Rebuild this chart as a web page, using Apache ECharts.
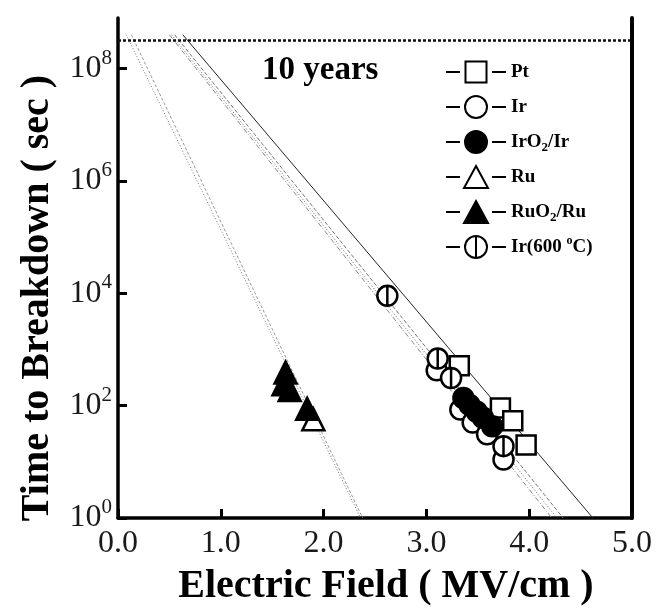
<!DOCTYPE html>
<html>
<head>
<meta charset="utf-8">
<script src="https://cdn.jsdelivr.net/npm/echarts@6/dist/echarts.min.js"></script>
<style>
  html, body { margin: 0; padding: 0; background: #fff; }
  #chart { width: 664px; height: 612px; }
</style>
</head>
<body>
<div id="chart"></div>
<script>
// Measured breakdown points: [electric field (MV/cm), time to breakdown (s)]
const ptPoints    = [[3.32, 515], [3.72, 91], [3.84, 54], [3.97, 20]];
const irPoints    = [[3.10, 425], [3.33, 85], [3.45, 50], [3.59, 31], [3.75, 11]];
const irO2Points  = [[3.36, 137], [3.42, 103], [3.49, 78], [3.55, 61], [3.64, 43]];
const ruPoints    = [[1.90, 57]];
const ruO2Points  = [[1.63, 390], [1.61, 240], [1.67, 190], [1.84, 88]];
const ir600Points = [[2.62, 9000], [3.11, 690], [3.24, 310], [3.75, 19]];

// Extrapolated lifetime lines, [field, time] at each end
const ptFit    = [[0.63, 4e8], [4.62, 1]];
const irFit    = [[0.55, 4e8], [4.33, 1]];
const irO2Fit  = [[0.52, 4e8], [4.27, 1]];
const ir600Fit = [[0.50, 4e8], [4.22, 1]];
const ruFit    = [[0.08, 4e8], [2.36, 1]];
const ruO2Fit  = [[0.13, 4e8], [2.38, 1]];

// Ten-year lifetime criterion (s)
const tenYears = 3.15e8;
const fieldRange = [0, 5];
const fieldTickStep = 1;
const decadeRange = [0, 8.9];   // time axis, in powers of ten
const decadeTickStep = 2;

const seriesNames = ['Pt', 'Ir', 'IrO2/Ir', 'Ru', 'RuO2/Ru', 'Ir(600 °C)'];

const SERIF = '"Liberation Serif", "DejaVu Serif", serif';
const toDecades = pts => pts.map(([x, t]) => [x, Math.log10(t)]);

// plot markers
const barredCircle = 'path://M50,2 A48,48 0 1,1 50,98 A48,48 0 1,1 50,2 Z M50,2 L50,98';

// legend keys: short dash, marker, short dash (60 x 22 box)
const dashes = 'M0,11 L14,11 M46,11 L60,11 ';
const keyCircle = 'M30,0 A11,11 0 1,1 30,22 A11,11 0 1,1 30,0 Z ';
const legendIcons = {
  'Pt': 'path://' + dashes + 'M19.5,0.5 L40.5,0.5 L40.5,21.5 L19.5,21.5 Z M0,0 M60,22',
  'Ir': 'path://' + dashes + keyCircle,
  'IrO2/Ir': 'path://' + dashes + keyCircle,
  'Ru': 'path://' + dashes + 'M30,0 L42,22 L18,22 Z',
  'RuO2/Ru': 'path://' + dashes + 'M30,0 L42,22 L18,22 Z',
  'Ir(600 °C)': 'path://' + dashes + keyCircle + 'M30,0 L30,22'
};

function pointSeries(name, pts, symbol, size, fill, z) {
  return {
    name: name,
    type: 'line',
    data: toDecades(pts),
    symbol: symbol,
    symbolSize: size,
    showSymbol: true,
    lineStyle: { width: 0, opacity: 0 },
    itemStyle: { color: fill, borderColor: '#000', borderWidth: 2.5, opacity: 1 },
    emphasis: { disabled: true },
    animation: false,
    z: z
  };
}

function fitSeries(pts, type, color, width) {
  return {
    type: 'line',
    data: toDecades(pts),
    symbol: 'none',
    silent: true,
    lineStyle: { color: color, width: width, type: type },
    animation: false,
    z: 2
  };
}

const chart = echarts.init(document.getElementById('chart'), null, { renderer: 'canvas' });

chart.setOption({
  backgroundColor: '#fff',
  animation: false,
  title: {
    text: '10 years',
    left: 262,
    top: 54,
    padding: 0,
    textStyle: { fontFamily: SERIF, fontWeight: 'bold', fontSize: 33, color: '#000' }
  },
  grid: { left: 118, right: 32, top: 18, bottom: 87, containLabel: false },
  legend: {
    orient: 'vertical',
    left: 440,
    top: 55,
    itemWidth: 60,
    itemHeight: 22,
    itemGap: 11,
    selectedMode: false,
    symbolKeepAspect: true,
    data: seriesNames.map(n => ({ name: n, icon: legendIcons[n] })),
    itemStyle: { borderWidth: 2, borderColor: '#000' },
    formatter: n => n.replace('O2', 'O{sub|2}').replace('°', '{sup|o}'),
    textStyle: {
      fontFamily: SERIF, fontWeight: 'bold', fontSize: 19, color: '#000', lineHeight: 24,
      rich: {
        sub: { fontFamily: SERIF, fontWeight: 'bold', fontSize: 13, color: '#000', verticalAlign: 'bottom', lineHeight: 14 },
        sup: { fontFamily: SERIF, fontWeight: 'bold', fontSize: 12, color: '#000', verticalAlign: 'top', lineHeight: 14 }
      }
    }
  },
  xAxis: {
    type: 'value',
    min: fieldRange[0],
    max: fieldRange[1],
    interval: fieldTickStep,
    name: 'Electric Field ( MV/cm )',
    nameLocation: 'middle',
    nameGap: 49,
    nameTextStyle: { fontFamily: SERIF, fontWeight: 'bold', fontSize: 40, color: '#000', padding: [0, 0, 0, 22] },
    axisLine: { show: true, onZero: false, lineStyle: { color: '#000', width: 3.5 } },
    axisTick: { show: true, inside: true, length: 9, lineStyle: { color: '#000', width: 3 } },
    axisLabel: {
      margin: 10,
      fontFamily: SERIF, fontSize: 32, color: '#1a1a1a',
      formatter: v => v.toFixed(1)
    },
    splitLine: { show: false }
  },
  yAxis: [{
    type: 'value',
    min: decadeRange[0],
    max: decadeRange[1],
    interval: decadeTickStep,
    name: 'Time to Breakdown ( sec )',
    nameLocation: 'middle',
    nameGap: 60,
    nameTextStyle: { fontFamily: SERIF, fontWeight: 'bold', fontSize: 40, color: '#000', padding: [0, 60, 0, 0] },
    axisLine: { show: true, onZero: false, lineStyle: { color: '#000', width: 3.5 } },
    axisTick: { show: true, inside: true, length: 9, lineStyle: { color: '#000', width: 3 } },
    axisLabel: {
      margin: 6,
      showMaxLabel: false,
      formatter: v => '{b|10}{s|' + v + '}',
      rich: {
        b: { fontFamily: SERIF, fontSize: 32, color: '#1a1a1a', lineHeight: 42 },
        s: { fontFamily: SERIF, fontSize: 21, color: '#1a1a1a', lineHeight: 20, verticalAlign: 'top' }
      }
    },
    splitLine: { show: false }
  }, {
    type: 'value',
    position: 'right',
    min: decadeRange[0],
    max: decadeRange[1],
    axisLine: { show: true, onZero: false, lineStyle: { color: '#000', width: 4 } },
    axisTick: { show: false },
    axisLabel: { show: false },
    splitLine: { show: false }
  }],
  series: [
    {
      type: 'line',
      data: toDecades([[fieldRange[0], tenYears], [fieldRange[1], tenYears]]),
      symbol: 'none',
      silent: true,
      lineStyle: { color: '#111', width: 2.5, type: [3, 2] },
      animation: false,
      z: 3
    },
    fitSeries(ptFit, 'solid', '#222', 1),
    fitSeries(irFit, [4, 2], '#777', 1),
    fitSeries(irO2Fit, [1, 2], '#666', 1),
    fitSeries(ir600Fit, [5, 2, 1, 2], '#888', 1),
    fitSeries(ruFit, [1, 2], '#777', 1),
    fitSeries(ruO2Fit, [3, 2], '#999', 1),
    pointSeries('Pt', ptPoints, 'rect', 19, '#fff', 5),
    pointSeries('Ir', irPoints, 'circle', 20, '#fff', 6),
    pointSeries('IrO2/Ir', irO2Points, 'circle', 20, '#000', 7),
    pointSeries('Ru', ruPoints, 'triangle', 22, '#fff', 5),
    pointSeries('RuO2/Ru', ruO2Points, 'triangle', 22, '#000', 6),
    pointSeries('Ir(600 °C)', ir600Points, barredCircle, 20, '#fff', 8)
  ]
});
</script>
</body>
</html>
